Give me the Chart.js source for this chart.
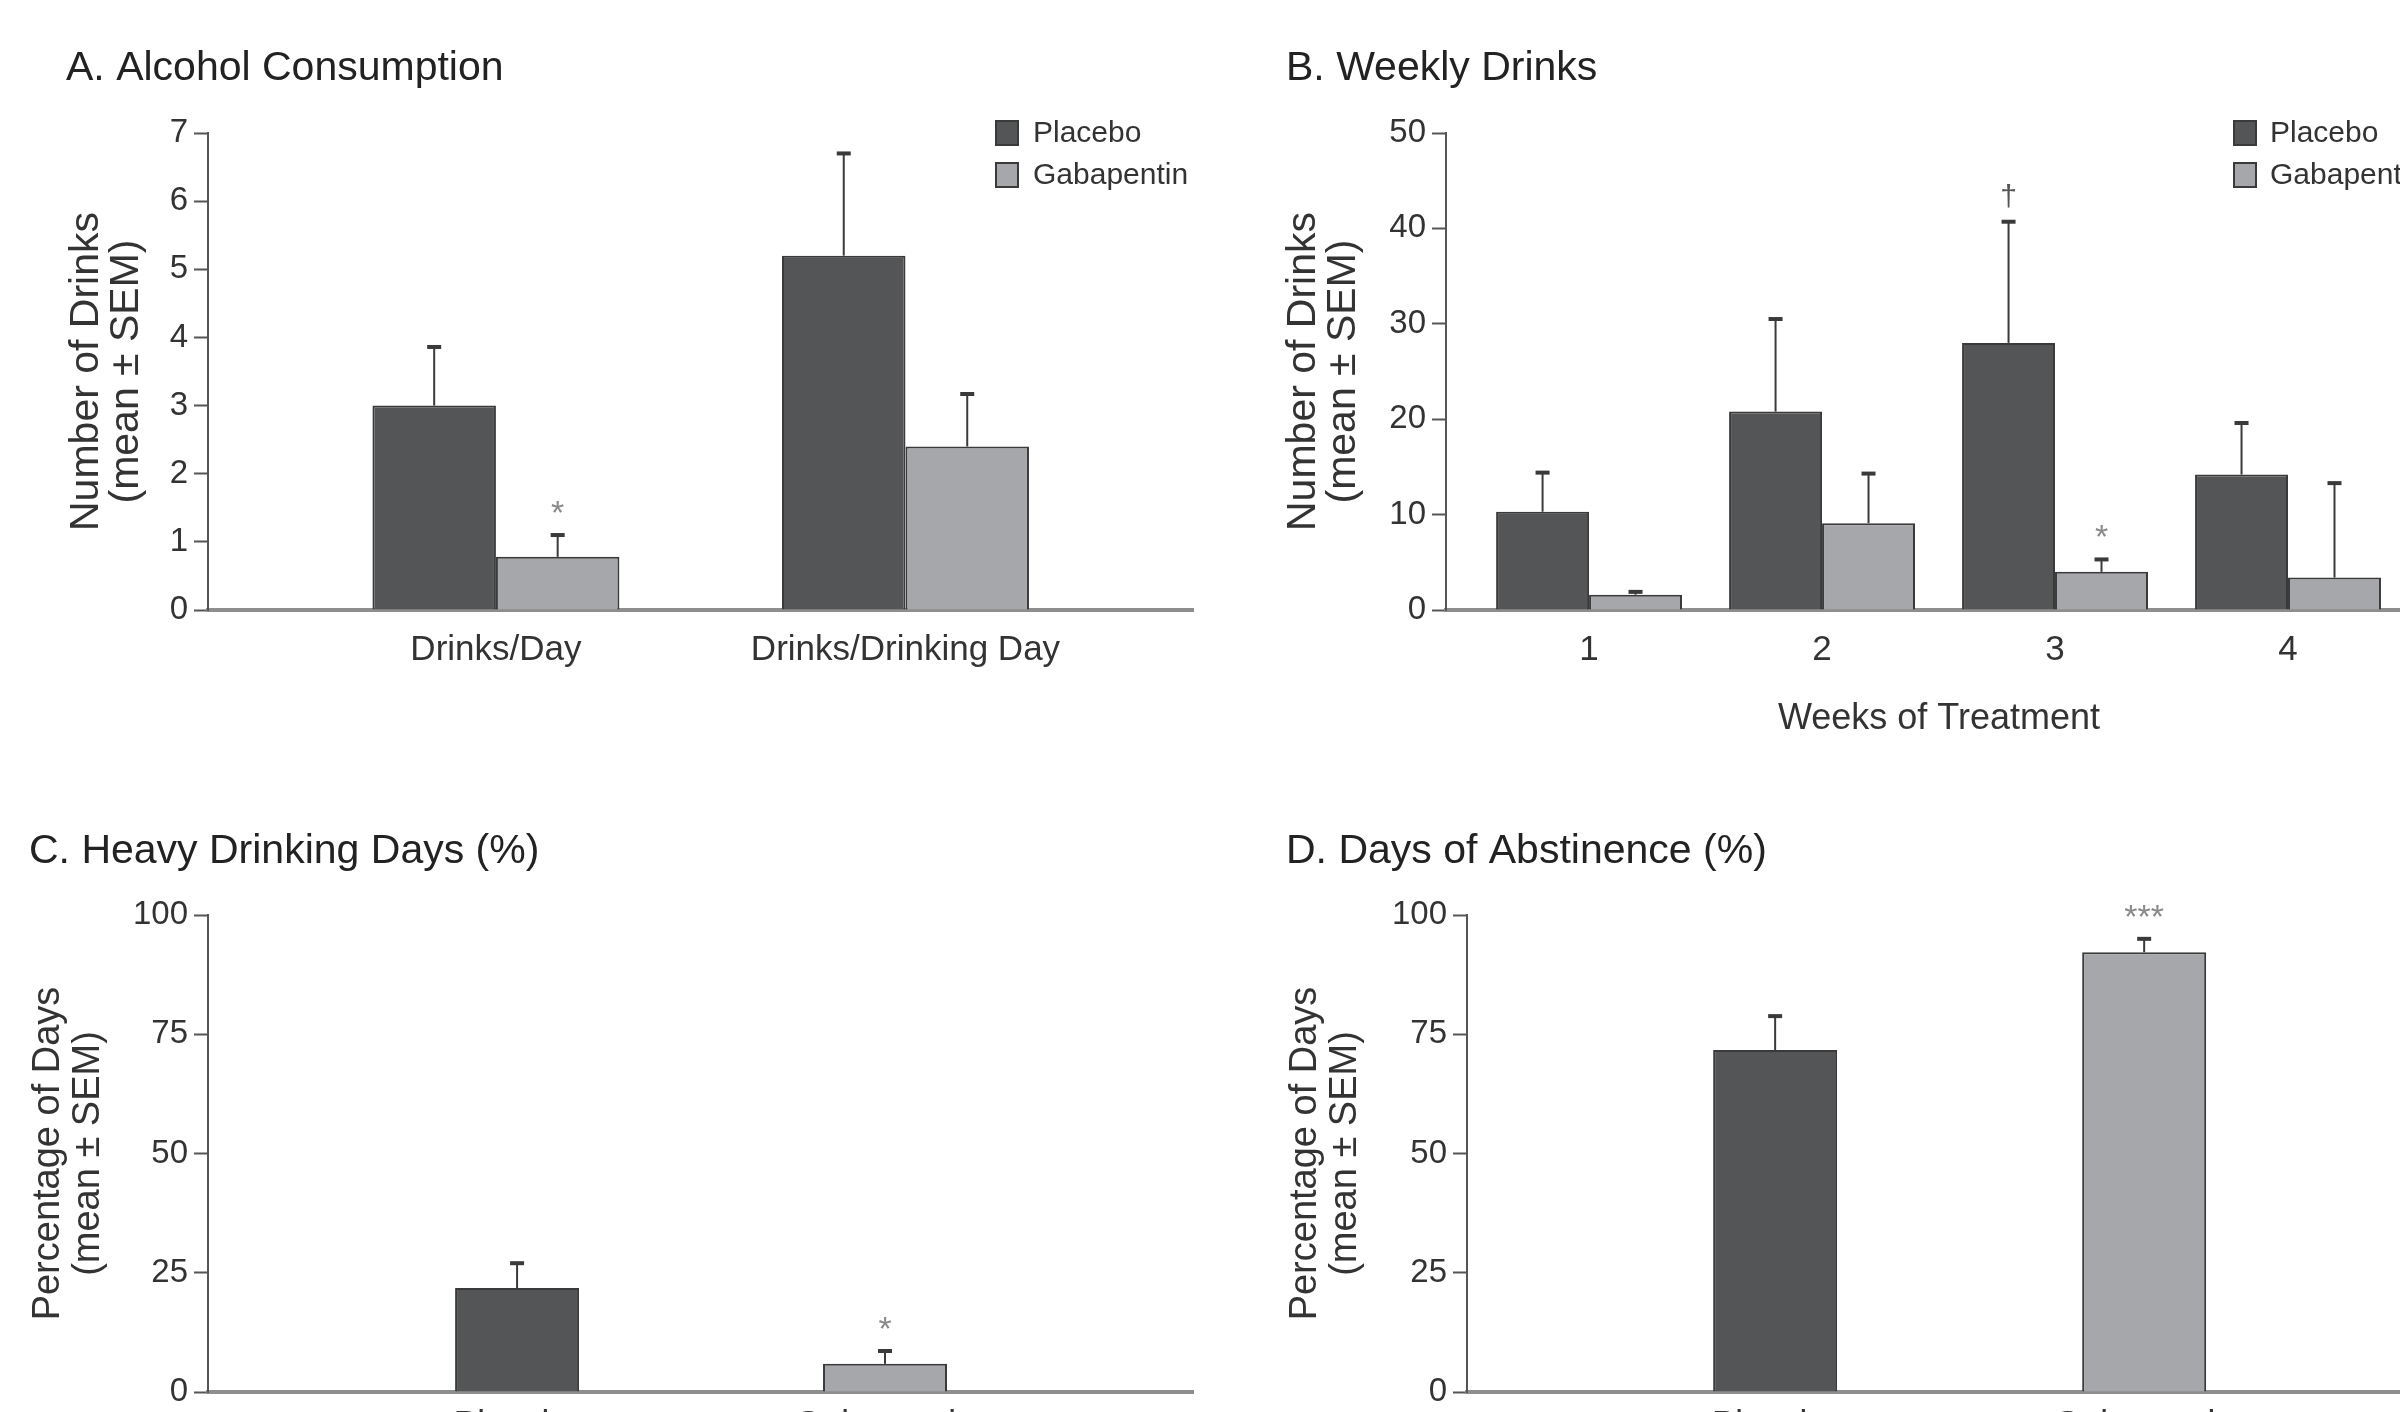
<!DOCTYPE html>
<html><head><meta charset="utf-8">
<script src="https://cdn.jsdelivr.net/npm/chart.js@4.4.1/dist/chart.umd.min.js"></script>
<style>
html,body{margin:0;padding:0;background:#fff;}
body{width:2400px;height:1412px;overflow:hidden;position:relative;}
canvas{position:absolute;}
</style></head><body>
<canvas id="cA" width="1200" height="760" style="left:0;top:0"></canvas>
<canvas id="cB" width="1240" height="760" style="left:1200px;top:0"></canvas>
<canvas id="cC" width="1200" height="780" style="left:0;top:706px"></canvas>
<canvas id="cD" width="1240" height="780" style="left:1200px;top:706px"></canvas>
<script>
// ---------- data ----------
const seriesNames = ['Placebo', 'Gabapentin'];

const consumptionCategories = ['Drinks/Day', 'Drinks/Drinking Day'];
const consumptionPlacebo = [3.0, 5.2];
const consumptionPlaceboSEM = [0.86, 1.5];
const consumptionGabapentin = [0.78, 2.4];
const consumptionGabapentinSEM = [0.32, 0.77];
const consumptionPlaceboMarks = ['', ''];
const consumptionGabapentinMarks = ['*', ''];
const consumptionTicks = [0, 1, 2, 3, 4, 5, 6, 7];

const weekCategories = ['1', '2', '3', '4'];
const weeklyPlacebo = [10.3, 20.8, 28.0, 14.2];
const weeklyPlaceboSEM = [4.1, 9.7, 12.7, 5.4];
const weeklyGabapentin = [1.6, 9.1, 4.0, 3.4];
const weeklyGabapentinSEM = [0.3, 5.2, 1.3, 9.9];
const weeklyPlaceboMarks = ['', '', '†', ''];
const weeklyGabapentinMarks = ['', '', '*', ''];
const weeklyTicks = [0, 10, 20, 30, 40, 50];

const groupCategories = ['Placebo', 'Gabapentin'];
const heavyValues = [21.8, 5.9];
const heavySEM = [5.2, 2.7];
const heavyMarks = ['', '*'];
const abstinenceValues = [71.7, 92.2];
const abstinenceSEM = [7.1, 2.8];
const abstinenceMarks = ['', '***'];
const percentTicks = [0, 25, 50, 75, 100];

// ---------- styling ----------
const FONT = '"Liberation Sans", Arial, Helvetica, sans-serif';
const DARK = '#545557';
const LIGHT = '#a6a7aa';
const EDGE = '#3a3a3a';
Chart.defaults.font.family = FONT;
Chart.defaults.color = '#333';

const toPoints = arr => arr.map((v, i) => ({x: i + 1, y: v}));

const errorBarPlugin = {
  id: 'errorBars',
  afterDatasetsDraw(chart) {
    const ctx = chart.ctx;
    const yScale = chart.scales.y;
    chart.data.datasets.forEach((ds, di) => {
      const meta = chart.getDatasetMeta(di);
      meta.data.forEach((bar, i) => {
        const v = ds.data[i].y;
        const e = ds.errors[i];
        const yTop = yScale.getPixelForValue(v);
        const yErr = yScale.getPixelForValue(v + e);
        ctx.save();
        ctx.strokeStyle = EDGE;
        ctx.lineWidth = 2;
        ctx.beginPath(); ctx.moveTo(bar.x, yTop); ctx.lineTo(bar.x, yErr); ctx.stroke();
        ctx.lineWidth = 4;
        ctx.beginPath(); ctx.moveTo(bar.x - 7, yErr); ctx.lineTo(bar.x + 7, yErr); ctx.stroke();
        const mark = ds.marks[i];
        if (mark) {
          const dagger = mark === '†';
          ctx.fillStyle = dagger ? '#555' : '#8a8a8a';
          ctx.font = (dagger ? 30 : 34) + 'px ' + FONT;
          ctx.textAlign = 'center';
          ctx.textBaseline = 'alphabetic';
          ctx.fillText(mark, bar.x, yErr - (dagger ? 16 : 11));
        }
        ctx.restore();
      });
    });
  }
};

const boxLegendPlugin = {
  id: 'boxLegend',
  afterDraw(chart, args, opts) {
    if (!opts || !opts.display) return;
    const ctx = chart.ctx;
    chart.data.datasets.forEach((ds, i) => {
      const cy = opts.y + i * opts.rowGap;
      ctx.save();
      ctx.fillStyle = ds.backgroundColor;
      ctx.strokeStyle = EDGE;
      ctx.lineWidth = 2;
      ctx.fillRect(opts.x, cy - 12, 22, 24);
      ctx.strokeRect(opts.x, cy - 12, 22, 24);
      ctx.fillStyle = '#333';
      ctx.font = '30px ' + FONT;
      ctx.textAlign = 'left';
      ctx.textBaseline = 'middle';
      ctx.fillText(ds.label, opts.textX, cy + 1);
      ctx.restore();
    });
  }
};

const panelTitlePlugin = {
  id: 'panelTitle',
  afterDraw(chart, args, opts) {
    const ctx = chart.ctx;
    ctx.save();
    ctx.fillStyle = '#222';
    ctx.font = '41px ' + FONT;
    ctx.textAlign = 'left';
    ctx.textBaseline = 'alphabetic';
    ctx.fillText(opts.text, opts.x, opts.y);
    ctx.restore();
  }
};

function yAxis(tickVals, titleLines, titleSize, titlePad, width) {
  return {
    type: 'linear',
    min: tickVals[0],
    max: tickVals[tickVals.length - 1],
    afterBuildTicks: s => { s.ticks = tickVals.map(v => ({value: v})); },
    afterFit: s => { s.width = width; },
    grid: {display: true, drawOnChartArea: false, drawTicks: true, tickLength: 14, tickWidth: 2, tickColor: '#555', color: '#555'},
    border: {display: true, color: '#555', width: 2},
    ticks: {color: '#333', font: {family: FONT, size: 33}, padding: 6},
    title: {display: true, text: titleLines, color: '#333', font: {family: FONT, size: titleSize, lineHeight: 40 / titleSize}, padding: {top: titlePad, bottom: 0}}
  };
}

function xAxis(cats, min, max, height, labelPad, title) {
  return {
    type: 'linear',
    min: min,
    max: max,
    offset: false,
    afterBuildTicks: s => { s.ticks = cats.map((c, i) => ({value: i + 1})); },
    afterFit: s => { s.height = height; },
    grid: {display: false, drawTicks: false, tickLength: 0},
    border: {display: true, color: '#8e8e8e', width: 4},
    ticks: {color: '#333', font: {family: FONT, size: 35}, padding: labelPad, autoSkip: false, maxRotation: 0, callback: (v, i) => cats[i]},
    title: title || {display: false}
  };
}

function makeChart(id, datasets, scales, padding, titleOpts, legendOpts) {
  return new Chart(document.getElementById(id), {
    type: 'bar',
    data: {datasets: datasets},
    options: {
      responsive: false,
      animation: false,
      devicePixelRatio: 1,
      layout: {padding: padding},
      scales: scales,
      plugins: {
        legend: {display: false},
        tooltip: {enabled: false},
        panelTitle: titleOpts,
        boxLegend: legendOpts
      }
    },
    plugins: [errorBarPlugin, boxLegendPlugin, panelTitlePlugin]
  });
}

const barCommon = {borderColor: EDGE, borderWidth: 2, barPercentage: 1};

// A. Alcohol Consumption
makeChart('cA', [
  Object.assign({label: seriesNames[0], data: toPoints(consumptionPlacebo), errors: consumptionPlaceboSEM, marks: consumptionPlaceboMarks, backgroundColor: DARK, categoryPercentage: 0.603}, barCommon),
  Object.assign({label: seriesNames[1], data: toPoints(consumptionGabapentin), errors: consumptionGabapentinSEM, marks: consumptionGabapentinMarks, backgroundColor: LIGHT, categoryPercentage: 0.603}, barCommon)
], {
  x: xAxis(consumptionCategories, 0.297, 2.702, 150, 19),
  y: yAxis(consumptionTicks, ['Number of Drinks', '(mean ± SEM)'], 41, 67, 208)
}, {left: 0, right: 7, top: 133, bottom: 0},
{text: 'A. Alcohol Consumption', x: 66, y: 80},
{display: true, x: 996, textX: 1033, y: 133, rowGap: 42});

// B. Weekly Drinks
makeChart('cB', [
  Object.assign({label: seriesNames[0], data: toPoints(weeklyPlacebo), errors: weeklyPlaceboSEM, marks: weeklyPlaceboMarks, backgroundColor: DARK, categoryPercentage: 0.798}, barCommon),
  Object.assign({label: seriesNames[1], data: toPoints(weeklyGabapentin), errors: weeklyGabapentinSEM, marks: weeklyGabapentinMarks, backgroundColor: LIGHT, categoryPercentage: 0.798}, barCommon)
], {
  x: xAxis(weekCategories, 0.386, 4.618, 150, 19, {display: true, text: 'Weeks of Treatment', color: '#333', font: {family: FONT, size: 36}, padding: {top: 0, bottom: 19}}),
  y: yAxis(weeklyTicks, ['Number of Drinks', '(mean ± SEM)'], 41, 84, 246)
}, {left: 0, right: 8, top: 133, bottom: 0},
{text: 'B. Weekly Drinks', x: 86, y: 80},
{display: true, x: 1034, textX: 1070, y: 133, rowGap: 42});

// C. Heavy Drinking Days (%)
makeChart('cC', [
  Object.assign({label: 'Heavy Drinking Days (%)', data: toPoints(heavyValues), errors: heavySEM, marks: heavyMarks, backgroundColor: [DARK, LIGHT], categoryPercentage: 0.337}, barCommon)
], {
  x: xAxis(groupCategories, 0.16, 2.837, 94, 12),
  y: yAxis(percentTicks, ['Percentage of Days', '(mean ± SEM)'], 38, 29, 208)
}, {left: 0, right: 7, top: 209, bottom: 0},
{text: 'C. Heavy Drinking Days (%)', x: 29, y: 157},
{display: false});

// D. Days of Abstinence (%)
makeChart('cD', [
  Object.assign({label: 'Days of Abstinence (%)', data: toPoints(abstinenceValues), errors: abstinenceSEM, marks: abstinenceMarks, backgroundColor: [DARK, LIGHT], categoryPercentage: 0.336}, barCommon)
], {
  x: xAxis(groupCategories, 0.165, 2.78, 94, 12),
  y: yAxis(percentTicks, ['Percentage of Days', '(mean ± SEM)'], 38, 86, 267)
}, {left: 0, right: 8, top: 209, bottom: 0},
{text: 'D. Days of Abstinence (%)', x: 86, y: 157},
{display: false});
</script>
</body></html>
